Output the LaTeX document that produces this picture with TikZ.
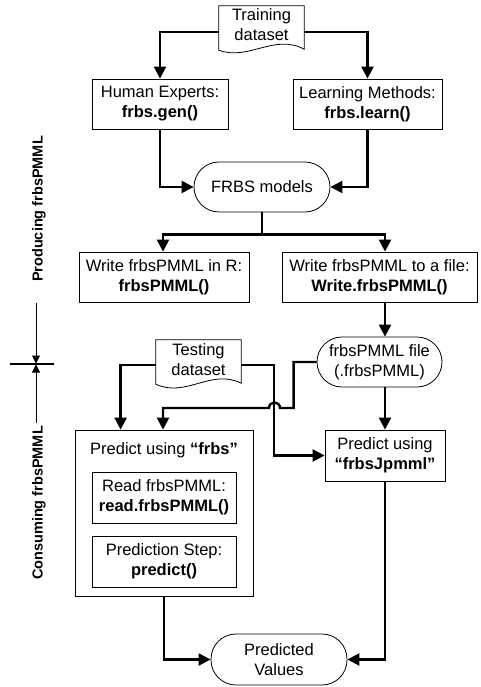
\documentclass[tikz,border=0pt]{standalone}
\usepackage{fontspec}
\setmainfont{Liberation Sans}
\usetikzlibrary{arrows.meta,calc}
\begin{document}
\begin{tikzpicture}[x=1pt,y=-1pt,
  txt/.style={font=\fontsize{16.5}{20}\selectfont, align=center, inner sep=0pt},
  box/.style={txt, draw, line width=0.8pt},
  term/.style={box, rounded corners=25pt},
  docnode/.style={txt},
  docline/.style={line width=0.8pt},
  conn/.style={line width=2.4pt, -{Triangle[length=12pt,width=12pt]}},
  plain/.style={line width=2.4pt},
  side/.style={font=\bfseries\fontsize{14.5}{16}\selectfont, rotate=90, inner sep=0pt},
  sidearrow/.style={line width=0.8pt, -{Triangle[length=8pt,width=8pt]}}
]
\useasboundingbox (0,0) rectangle (480,687);

% --- nodes ---
\node[docnode, minimum width=85pt, minimum height=37pt] (train) at (261.5,24.5) {Training\\dataset};
\node[box, minimum width=136pt, minimum height=50pt] (hum) at (160,104) {Human Experts:\\\textbf{frbs.gen()}};
\node[box, minimum width=149pt, minimum height=50pt] (learn) at (367.5,104) {Learning Methods:\\\textbf{frbs.learn()}};
\node[term, minimum width=136pt, minimum height=50pt] (frbs) at (262,187) {FRBS models};
\node[box, minimum width=170pt, minimum height=50pt] (wr) at (164,277) {Write frbsPMML in R:\\\textbf{frbsPMML()}};
\node[box, minimum width=195pt, minimum height=50pt] (wf) at (379.5,277) {Write frbsPMML to a file:\\\textbf{Write.frbsPMML()}};
\node[term, minimum width=125pt, minimum height=50pt] (file) at (379.5,362) {frbsPMML file\\(.frbsPMML)};
\node[docnode, minimum width=85pt, minimum height=40pt] (test) at (198.5,360) {Testing\\dataset};
\node[box, minimum width=178pt, minimum height=166pt] (pf) at (164,513) {};
\node[txt] (pftitle) at (164,450) {Predict using \textbf{“frbs”}};
\node[box, minimum width=144pt, minimum height=51pt] (rd) at (164,497.5) {Read frbsPMML:\\\textbf{read.frbsPMML()}};
\node[box, minimum width=144pt, minimum height=51pt] (ps) at (164,561.5) {Prediction Step:\\\textbf{predict()}};
\node[box, minimum width=120pt, minimum height=51pt] (jp) at (385,455.5) {Predict using\\\textbf{“frbsJpmml”}};
\node[term, minimum width=136pt, minimum height=51pt] (pv) at (279,659.5) {Predicted\\Values};

% --- document outlines ---
\draw[docline] (train.north west) -- (train.north east) -- ($(train.south east)+(0,6)$)
  .. controls ($(train.south east)+(-30,-10)$) and ($(train.south west)+(30,18)$) .. ($(train.south west)+(0,7)$) -- cycle;
\draw[docline] (test.north west) -- (test.north east) -- ($(test.south east)+(0,3)$)
  .. controls ($(test.south east)+(-30,-12)$) and ($(test.south west)+(30,18)$) .. ($(test.south west)+(0,4)$) -- cycle;

% --- connectors ---
\draw[conn] ([yshift=-7.5pt]train.west) -| (hum.north);
\draw[conn] ([yshift=-7.5pt]train.east) -| (learn.north);
\draw[conn] (hum.south) |- (frbs.west);
\draw[conn] (learn.south) |- (frbs.east);
\draw[plain] (frbs.south) -- ++(0,22) coordinate (br);
\draw[conn] (br) -| ([xshift=-1pt]wr.north);
\draw[conn] (br) -| (wf.north -| jp.north);
\draw[conn] (wf.south -| jp.north) -- (file.north -| jp.north);
\draw[conn] (file.south -| jp.north) -- (jp.north);
\draw[conn] ([yshift=-5pt]test.west) -| ([xshift=46pt]pf.north west);
\draw[conn] ([yshift=-5pt]test.east) -- ++(33,0) |- (jp.west);
\draw[conn] (file.west) -- ++(-23,0) |- (280,408)
  .. controls (280,400.7) and (269,400.7) .. (269,408) -| ([xshift=-1pt]pf.north);
\draw[conn] (pf.south) |- (pv.west);
\draw[conn] (jp.south) |- (pv.east);

% --- side labels ---
\node[side] (prod) at (39,209) {Producing frbsPMML};
\node[side] (cons) at (39,503) {Consuming frbsPMML};
\coordinate (sepL) at (10,364);
\coordinate (sepR) at (54,364);
\coordinate (sepT) at (36,303);
\coordinate (sepB) at (36,423);
\draw[line width=2pt] (sepL) -- (sepR);
\draw[sidearrow] (sepT) -- ([yshift=0.5pt]sepT |- sepL);
\draw[sidearrow] (sepB) -- ([yshift=-0.5pt]sepB |- sepL);
\end{tikzpicture}
\end{document}
